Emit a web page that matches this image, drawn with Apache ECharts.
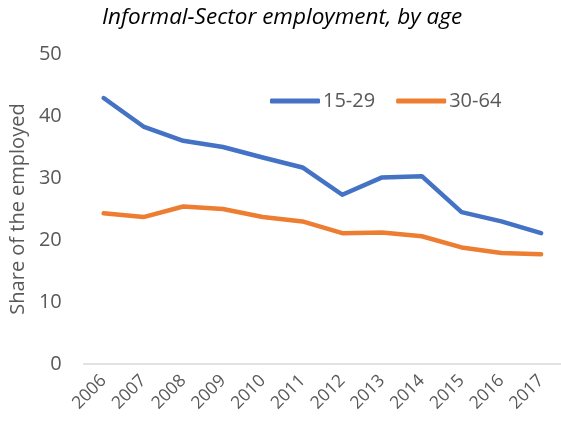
<!DOCTYPE html>
<html>
<head>
<meta charset="utf-8">
<script src="https://cdn.jsdelivr.net/npm/echarts@6/dist/echarts.min.js"></script>
<style>html,body{margin:0;padding:0;background:#fff}#c{width:561px;height:423px}</style>
</head>
<body>
<div id="c"></div>
<script>
var years = ['2006','2007','2008','2009','2010','2011','2012','2013','2014','2015','2016','2017'];
var youth = [42.9, 38.3, 36.0, 35.0, 33.3, 31.7, 27.3, 30.1, 30.3, 24.5, 23.0, 21.1];
var adults = [24.3, 23.7, 25.4, 25.0, 23.7, 23.0, 21.1, 21.2, 20.6, 18.8, 17.9, 17.7];
var yTicks = [0, 10, 20, 30, 40, 50];

var font = '"Open Sans", sans-serif';
var chart = echarts.init(document.getElementById('c'));
chart.setOption({
  animation: false,
  title: {
    text: 'Informal-Sector employment, by age',
    left: 277, top: 1, textAlign: 'center',
    textStyle: { fontFamily: font, fontStyle: 'italic', fontWeight: 'normal', fontSize: 22.5, color: '#000' }
  },
  legend: {
    left: 265, top: 86,
    icon: 'roundRect', itemWidth: 50, itemHeight: 5, itemGap: 21,
    textStyle: { fontFamily: font, fontSize: 20, color: '#595959', padding: [0,0,0,-2] },
    data: ['15-29', '30-64']
  },
  grid: { left: 83, right: -2, top: 54, bottom: 59, containLabel: false },
  xAxis: {
    type: 'category', data: years, boundaryGap: true,
    axisLine: { lineStyle: { color: '#d9d9d9', width: 1.5 } },
    axisTick: { show: false },
    axisLabel: { rotate: 45, fontFamily: font, fontSize: 17.5, color: '#595959', margin: 14, interval: 0 }
  },
  yAxis: {
    type: 'value', min: yTicks[0], max: yTicks[yTicks.length-1], interval: 10,
    name: 'Share of the employed', nameLocation: 'middle', nameGap: 49,
    nameTextStyle: { fontFamily: font, fontSize: 20, color: '#595959' },
    axisLine: { show: false }, axisTick: { show: false },
    splitLine: { show: false },
    axisLabel: { fontFamily: font, fontSize: 20, color: '#595959', margin: 22 }
  },
  series: [
    { name: '15-29', type: 'line', data: youth, symbol: 'none', color: '#4472C4',
      lineStyle: { width: 4.5, color: '#4472C4', cap: 'round', join: 'round' } },
    { name: '30-64', type: 'line', data: adults, symbol: 'none', color: '#ED7D31',
      lineStyle: { width: 4.5, color: '#ED7D31', cap: 'round', join: 'round' } }
  ]
});
</script>
</body>
</html>
